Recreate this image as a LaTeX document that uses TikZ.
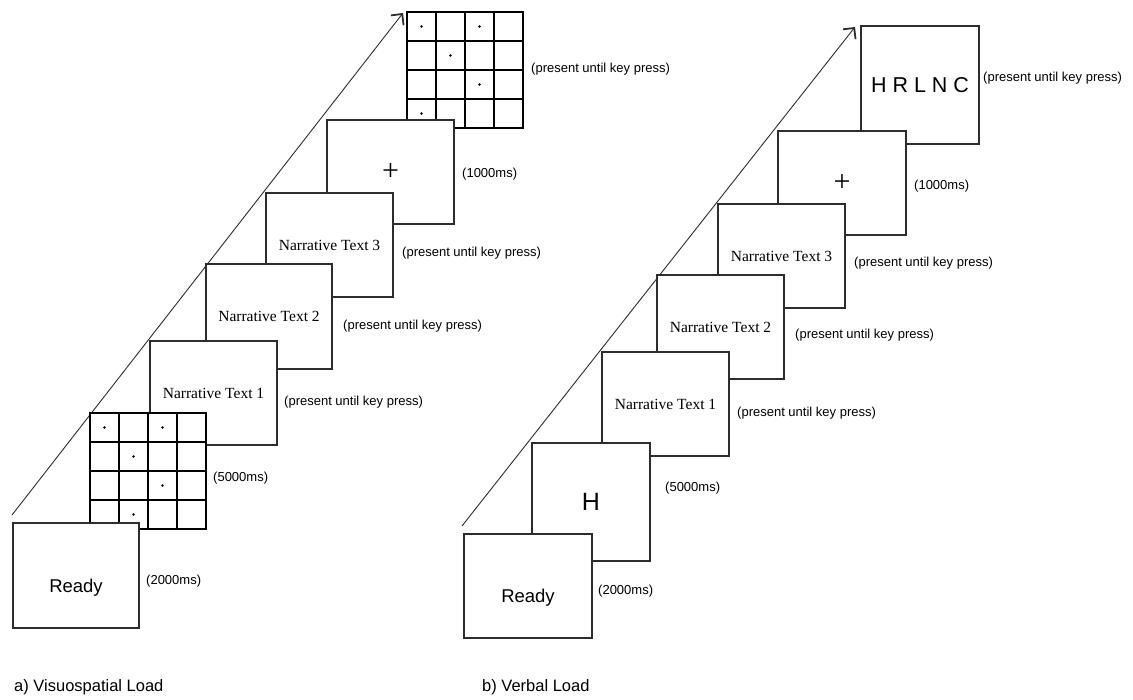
\documentclass[tikz,border=0pt]{standalone}
\usepackage{fontspec}
\setmainfont{Liberation Sans}
\newfontfamily\timesfont{Liberation Serif}
\usetikzlibrary{arrows.meta,positioning,calc}
\definecolor{framegray}{RGB}{45,45,45}

\begin{document}
\begin{tikzpicture}[x=1pt, y=-1pt,
  screen/.style={draw=framegray, fill=white, line width=1.1pt, inner sep=0pt, minimum width=127pt, minimum height=104pt},
  squarescreen/.style={screen, minimum width=118pt, minimum height=118pt},
  gridscreen/.style={draw=black, fill=white, line width=1.8pt, inner sep=0pt, outer sep=0pt, minimum size=116pt},
  gridline/.style={draw=black, line width=1.5pt},
  timing/.style={anchor=west, inner sep=0pt, font=\fontsize{13}{15}\selectfont},
  narr/.style={font=\timesfont\fontsize{15.5}{18}\selectfont},
  cross/.style={font=\timesfont\fontsize{30}{32}\selectfont},
  readytxt/.style={font=\fontsize{18.5}{20}\selectfont},
  caption/.style={anchor=west, inner sep=0pt, font=\fontsize{16.5}{18}\selectfont},
  timeline/.style={draw=framegray, line width=0.9pt, -{Straight Barb[length=8pt,width=16pt,line width=1.8pt]}}]
\useasboundingbox (0,0) rectangle (1133,700);

% a) visuospatial load
\coordinate (arrAstart) at (12,515);
\coordinate (arrAend) at (403,13);
\draw[timeline] (arrAstart) -- (arrAend);

\node[gridscreen] (probeA) at (465,70) {};
\foreach \k in {1,2,3} {
  \draw[gridline] ($(probeA.north west)+(\k*29,0)$) -- ($(probeA.south west)+(\k*29,0)$);
  \draw[gridline] ($(probeA.north west)+(0,\k*29)$) -- ($(probeA.north east)+(0,\k*29)$);
}
\foreach \c/\r in {1/1,3/1,2/2,3/3,1/4}
  \fill ($(probeA.north west)+(\c*29-14.5,\r*29-14.5)$) circle (1.3pt);
\node[timing] (probeAlbl) at (531,69) {(present until key press)};

\node[screen] (fixA) at (390.5,172) {};
\node[cross] (fixAcross) at (fixA.center) {+};
\node[timing] (fixAlbl) at (462,174) {(1000ms)};

\node[screen, narr] (txt3A) at (329.5,245) {Narrative Text 3};
\node[timing] (txt3Albl) at (402,253) {(present until key press)};

\node[screen, narr, minimum width=126pt, minimum height=105pt] (txt2A) at (269,316.5) {Narrative Text 2};
\node[timing] (txt2Albl) at (343,326) {(present until key press)};

\node[screen, narr] (txt1A) at (213.5,393) {Narrative Text 1};
\node[timing] (txt1Albl) at (284,402) {(present until key press)};

\node[gridscreen] (studyA) at (148,471) {};
\foreach \k in {1,2,3} {
  \draw[gridline] ($(studyA.north west)+(\k*29,0)$) -- ($(studyA.south west)+(\k*29,0)$);
  \draw[gridline] ($(studyA.north west)+(0,\k*29)$) -- ($(studyA.north east)+(0,\k*29)$);
}
\foreach \c/\r in {1/1,3/1,2/2,3/3,2/4}
  \fill ($(studyA.north west)+(\c*29-14.5,\r*29-14.5)$) circle (1.3pt);
\node[timing] (studyAlbl) at (213,478) {(5000ms)};

\node[screen, minimum width=126pt, minimum height=105pt] (readyA) at (76,575.5) {};
\node[readytxt] (readyAtxt) at ([yshift=-12.5pt]readyA.center) {Ready};
\node[timing] (readyAlbl) at (146,581) {(2000ms)};

\node[caption] (capA) at (14,687) {a) Visuospatial Load};

% b) verbal load
\coordinate (arrBstart) at (462,526);
\coordinate (arrBend) at (855,27);
\draw[timeline] (arrBstart) -- (arrBend);

\node[squarescreen, font=\fontsize{21.5}{24}\selectfont] (probeB) at (920,85) {H R L N C};
\node[timing] (probeBlbl) at (983,78) {(present until key press)};

\node[screen, minimum width=128pt] (fixB) at (842,183) {};
\node[cross] (fixBcross) at (fixB.center) {+};
\node[timing] (fixBlbl) at (914,186) {(1000ms)};

\node[screen, narr] (txt3B) at (781.5,256) {Narrative Text 3};
\node[timing] (txt3Blbl) at (854,263) {(present until key press)};

\node[screen, narr] (txt2B) at (720.5,327) {Narrative Text 2};
\node[timing] (txt2Blbl) at (795,335) {(present until key press)};

\node[screen, narr] (txt1B) at (665.5,404) {Narrative Text 1};
\node[timing] (txt1Blbl) at (737,413) {(present until key press)};

\node[squarescreen, font=\fontsize{25}{28}\selectfont] (studyB) at (591,502) {H};
\node[timing] (studyBlbl) at (665,488) {(5000ms)};

\node[screen, minimum width=128pt] (readyB) at (528,586) {};
\node[readytxt] (readyBtxt) at ([yshift=-12pt]readyB.center) {Ready};
\node[timing] (readyBlbl) at (598,591) {(2000ms)};

\node[caption] (capB) at (482,687) {b) Verbal Load};
\end{tikzpicture}
\end{document}
